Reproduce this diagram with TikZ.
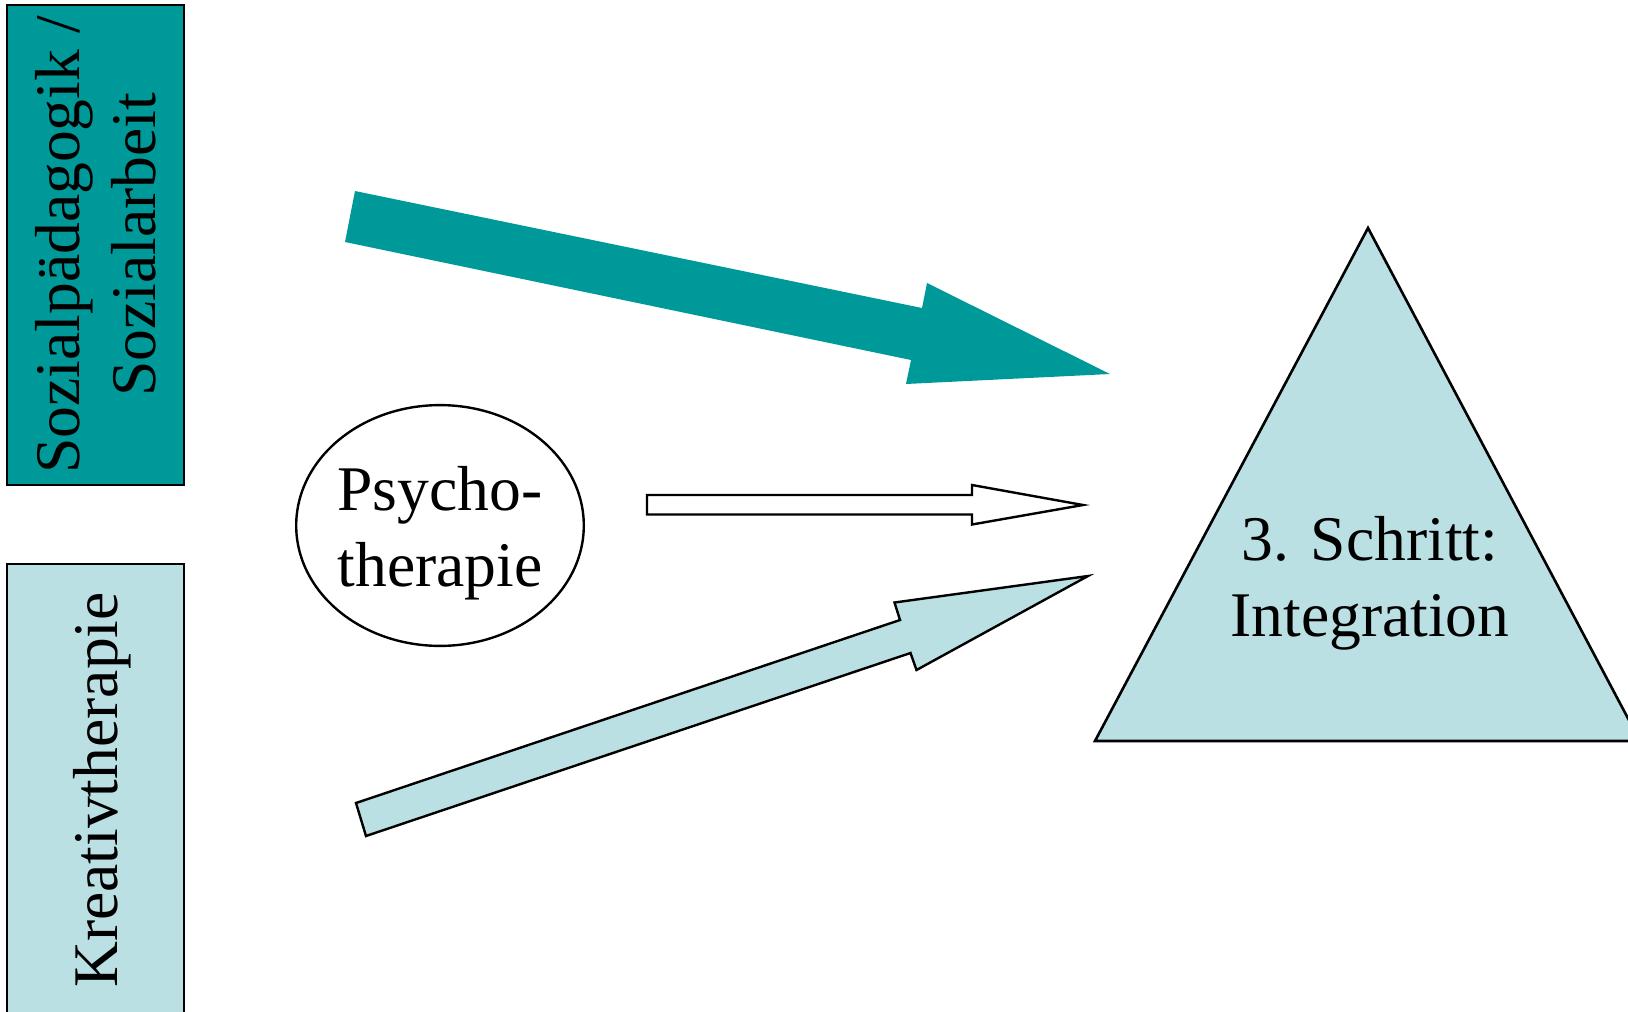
\documentclass[tikz,border=0pt]{standalone}
\usepackage{fontspec}
\setmainfont{Liberation Serif}
\usepackage{tikz}
\usetikzlibrary{shapes.geometric}

\definecolor{sozialteal}{RGB}{0,153,153}
\definecolor{kreativblau}{RGB}{187,224,227}
\newcommand{\slidefont}{\fontsize{31.8}{38}\selectfont}

\tikzset{
  fieldbox/.style={draw, line width=1.4pt, rotate=90, align=center, inner sep=0pt,
    minimum height=88.5pt, font=\slidefont},
  blockarrow/.style={line width=1.2pt, line join=miter},
}

\begin{document}
\begin{tikzpicture}[x=0.5pt,y=-0.5pt]
\useasboundingbox (0,0) rectangle (1628,1012);
\clip (0,0) rectangle (1628,1012);

% Felder links
\node[fieldbox, fill=sozialteal, minimum width=240pt] (sozial) at (95.5,245)
  {Sozialp\"adagogik /\\Sozialarbeit};
\node[fieldbox, fill=kreativblau, minimum width=226pt, text height=29pt, text depth=7pt]
  (kreativ) at (95.5,790) {Kreativtherapie};

% Psychotherapie
\node[ellipse, draw, line width=1.2pt, inner sep=0pt, minimum width=143.8pt,
  minimum height=120.4pt,
  label={[align=center, font=\slidefont, yshift=-4pt]center:Psycho-\\therapie}]
  (psycho) at (440,525.5) {};

% Dreieck
\filldraw[fill=kreativblau, line width=1.3pt, line join=miter]
  (1368,228) -- (1640,741) -- (1095,741) -- cycle;
\node[align=center, font=\slidefont] (schritt) at (1370,583)
  {3. Schritt:\\Integration};

% Pfeile
\fill[sozialteal] (355,191) -- (922,308) -- (927,283) -- (1110,374)
  -- (906,384) -- (911,360) -- (345,242) -- cycle;
\filldraw[blockarrow, fill=white] (647,495) -- (972,495) -- (972,485) -- (1083,505)
  -- (972,524.5) -- (972,514.5) -- (647,514.5) -- cycle;
\filldraw[blockarrow, fill=kreativblau] (356,803) -- (900,620) -- (894.5,602.5)
  -- (1088,576) -- (916.5,670) -- (910.5,653) -- (366,836) -- cycle;
\end{tikzpicture}
\end{document}
